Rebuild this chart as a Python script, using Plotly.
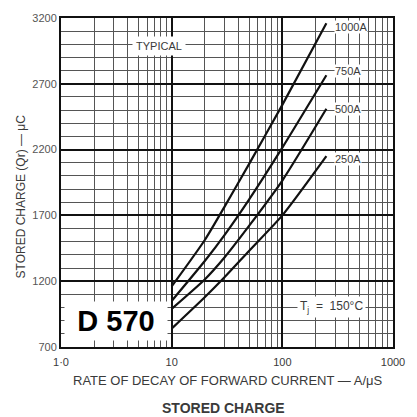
import plotly.graph_objects as go

# Data
rate = [10, 20, 30, 50, 100, 250]  # A/us
q_1000 = [1160, 1515, 1765, 2090, 2540, 3160]
q_750 = [1050, 1355, 1550, 1820, 2215, 2765]
q_500 = [990, 1215, 1380, 1620, 1965, 2510]
q_250 = [840, 1080, 1230, 1430, 1700, 2150]
series_names = ["1000A", "750A", "500A", "250A"]
label_y = [3130, 2800, 2505, 2128]

x_ticks = [1, 10, 100, 1000]
x_ticktext = ["1·0", "10", "100", "1000"]
y_ticks = [700, 1200, 1700, 2200, 2700, 3200]
x_minor = [m * d for d in (1, 10, 100) for m in range(2, 10)]

font_family = "Liberation Sans, Arial, sans-serif"
txt = "#3a3a3a"

fig = go.Figure()
for name, ys in zip(series_names, [q_1000, q_750, q_500, q_250]):
    fig.add_trace(go.Scatter(x=rate, y=ys, mode="lines", name=name,
                             line=dict(color="#111", width=2.2, shape="spline", smoothing=0.6),
                             showlegend=False))

annotations = []
for name, ly in zip(series_names, label_y):
    annotations.append(dict(x=2.47, y=ly, xref="x", yref="y", text=name, showarrow=False,
                            xanchor="left", yanchor="middle", bgcolor="white",
                            font=dict(family=font_family, size=11, color=txt), borderpad=0))
annotations += [
    dict(x=0.89, y=2985, xref="x", yref="y", text="TYPICAL", showarrow=False,
         bgcolor="white", borderpad=3, font=dict(family=font_family, size=11, color=txt)),
    dict(x=2.44, y=1003, xref="x", yref="y", text="T<sub>j</sub>\u00a0\u00a0=\u00a0\u00a0150°C", showarrow=False,
         bgcolor="white", borderpad=2, font=dict(family=font_family, size=12, color=txt)),
    dict(x=0.5, y=895, xref="x", yref="y", text="<b>D 570</b>", showarrow=False,
         bgcolor="white", width=100, height=36,
         font=dict(family=font_family, size=29, color="#000")),
    dict(x=0.5, y=-0.072, xref="paper", yref="paper", text="RATE OF DECAY OF FORWARD CURRENT — A/μS",
         showarrow=False, yanchor="top", font=dict(family=font_family, size=13, color=txt)),
    dict(x=0.49, y=-0.155, xref="paper", yref="paper", text="<b>STORED CHARGE</b>",
         showarrow=False, yanchor="top", font=dict(family=font_family, size=14, color=txt)),
    dict(x=-0.12, y=0.458, xref="paper", yref="paper", text="STORED CHARGE (Qr) — μC",
         textangle=-90, showarrow=False, xanchor="center", yanchor="middle",
         font=dict(family=font_family, size=12, color=txt)),
]

fig.update_layout(
    width=417, height=417,
    margin=dict(l=61, r=14, t=15, b=70),
    paper_bgcolor="white", plot_bgcolor="white",
    annotations=annotations,
    xaxis=dict(type="log", range=[0, 3], tickvals=x_ticks, ticktext=x_ticktext,
               showgrid=True, gridcolor="#111", gridwidth=1.8,
               minor=dict(tickvals=x_minor, showgrid=True, gridcolor="#555", gridwidth=1),
               showline=True, linecolor="#111", linewidth=2, mirror=True,
               ticks="", ticklabelstandoff=4,
               tickfont=dict(family=font_family, size=11, color=txt), zeroline=False),
    yaxis=dict(range=[700, 3200], tickvals=y_ticks,
               showgrid=True, gridcolor="#111", gridwidth=1.8,
               minor=dict(dtick=100, showgrid=True, gridcolor="#555", gridwidth=1),
               showline=True, linecolor="#111", linewidth=2, mirror=True,
               ticks="", tickfont=dict(family=font_family, size=11, color="#555"), zeroline=False),
)

fig.write_html("out.html", config={"displayModeBar": False},
               post_script="document.body.style.margin='0px';")
